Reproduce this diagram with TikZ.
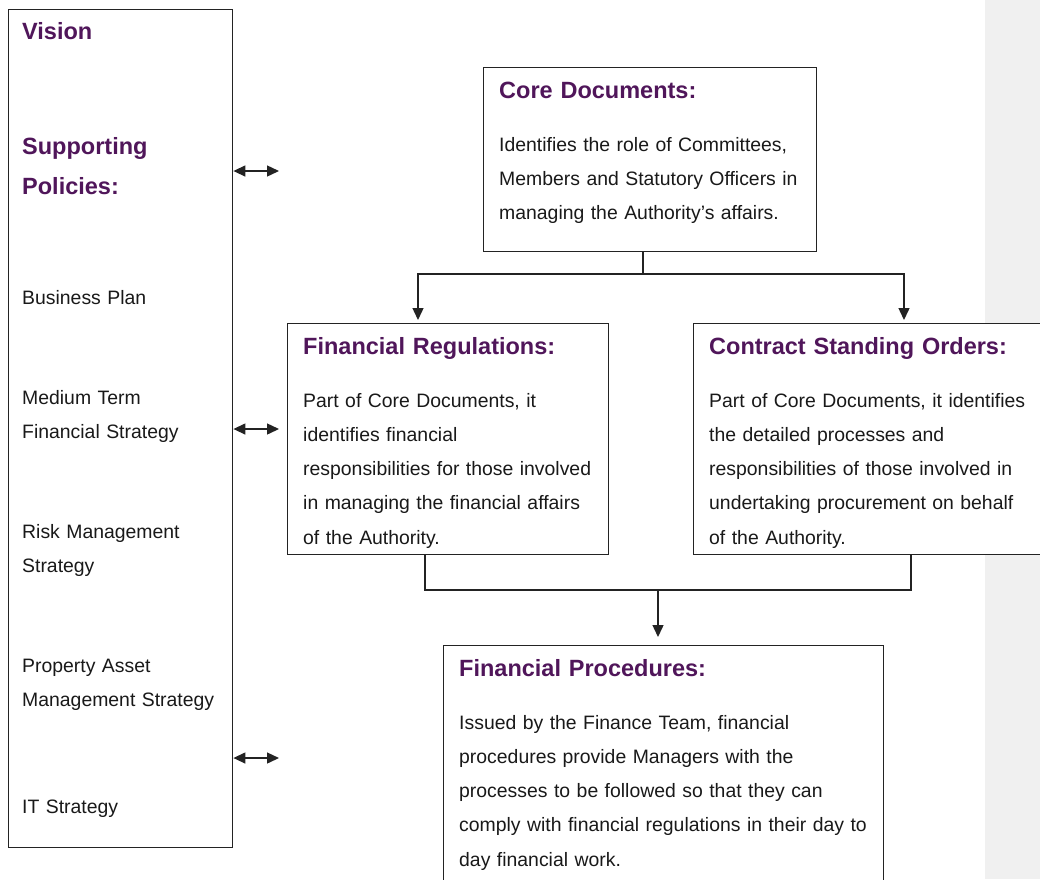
\documentclass[tikz,border=0pt]{standalone}
\usepackage{fontspec}
\setmainfont{Liberation Sans}
\usetikzlibrary{arrows.meta}
\definecolor{hd}{RGB}{80,22,90}
\definecolor{ln}{RGB}{35,35,35}
\definecolor{band}{RGB}{240,240,240}
\begin{document}
\begin{tikzpicture}[x=1pt,y=-1pt,
  boxline/.style={draw=ln,line width=1.4pt,fill=white,inner sep=0pt,anchor=north west},
  head/.style={anchor=base west,inner sep=0pt,text=hd,font=\fontsize{23.5}{40}\selectfont\bfseries,align=left,text width=420pt},
  body/.style={anchor=base west,inner sep=0pt,text=black!90,font=\fontsize{19.4}{34.3}\selectfont,align=left,text width=420pt},
  conn/.style={draw=ln,line width=1.4pt},
  tip/.style={-{Triangle[length=12pt,width=11pt]}},
  dtip/.style={{Triangle[length=12pt,width=11pt]}-{Triangle[length=12pt,width=11pt]}}]
\useasboundingbox (0,0) rectangle (1040,879);
\clip (0,0) rectangle (1040,879);
\fill[band] (985,0) rectangle (1040,879);

% left box
\node[boxline,minimum width=224pt,minimum height=838pt] (left) at (8,9) {};
\node[head] (vis) at (22,39) {Vision};
\node[head] (sup) at (22,154) {Supporting\\Policies:};
\node[body] (bp) at (22,304) {Business Plan};
\node[body] (mt) at (22,404) {Medium Term\\Financial Strategy};
\node[body] (rm) at (22,538) {Risk Management\\Strategy};
\node[body] (pa) at (22,672) {Property Asset\\Management Strategy};
\node[body] (it) at (22,813) {IT Strategy};

% core documents
\node[boxline,minimum width=333pt,minimum height=184pt] (core) at (483,67) {};
\node[head] (corehd) at (499,98) {Core Documents:};
\node[body] (corebd) at (499,151) {Identifies the role of Committees,\\Members and Statutory Officers in\\managing the Authority’s affairs.};

% financial regulations
\node[boxline,minimum width=321pt,minimum height=231pt] (fr) at (287,323) {};
\node[head] (frhd) at (303,354) {Financial Regulations:};
\node[body] (frbd) at (303,407) {Part of Core Documents, it\\identifies financial\\responsibilities for those involved\\in managing the financial affairs\\of the Authority.};

% contract standing orders
\node[boxline,minimum width=360pt,minimum height=231pt] (cso) at (693,323) {};
\node[head] (csohd) at (709,354) {Contract Standing Orders:};
\node[body] (csobd) at (709,407) {Part of Core Documents, it identifies\\the detailed processes and\\responsibilities of those involved in\\undertaking procurement on behalf\\of the Authority.};

% financial procedures
\node[boxline,minimum width=440pt,minimum height=260pt] (fp) at (443,645) {};
\node[head] (fphd) at (459,676) {Financial Procedures:};
\node[body] (fpbd) at (459,729) {Issued by the Finance Team, financial\\procedures provide Managers with the\\processes to be followed so that they can\\comply with financial regulations in their day to\\day financial work.};

% connectors from core documents
\coordinate (cstem) at (643,274);
\coordinate (frin) at (418,320);
\coordinate (csoin) at (904,320);
\draw[conn] (cstem |- core.south) -- (cstem);
\draw[conn,tip] (cstem) -| (frin);
\draw[conn,tip] (cstem) -| (csoin);

% connectors to financial procedures
\coordinate (frout) at (425,590);
\coordinate (csoout) at (911,590);
\coordinate (fpstem) at (658,590);
\coordinate (fpin) at (658,637);
\draw[conn] (frout |- fr.south) -- (frout) -- (csoout) -- (csoout |- cso.south);
\draw[conn,tip] (fpstem) -- (fpin);

% double arrows from left box
\coordinate (d1) at (279,171);
\coordinate (d2) at (279,429);
\coordinate (d3) at (279,758);
\draw[conn,dtip] (left.east |- d1) -- (d1);
\draw[conn,dtip] (left.east |- d2) -- (d2);
\draw[conn,dtip] (left.east |- d3) -- (d3);
\end{tikzpicture}
\end{document}
